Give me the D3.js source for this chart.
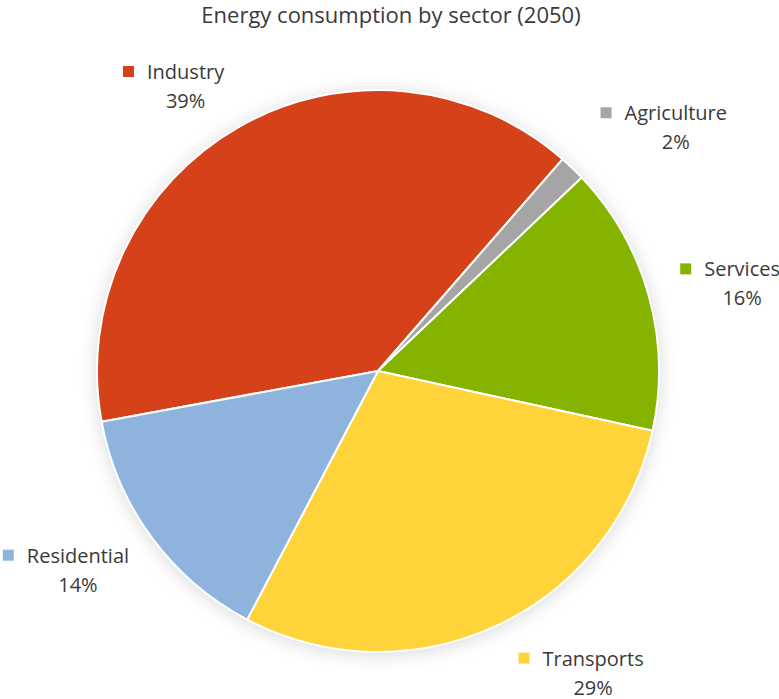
<!DOCTYPE html>
<html>
<head>
<meta charset="utf-8">
<script src="https://cdn.jsdelivr.net/npm/d3@7"></script>
<style>
  html, body { margin: 0; padding: 0; background: #fff; }
  svg text { font-family: "Open Sans", "Segoe UI", sans-serif; fill: #3a3a3a; }
</style>
</head>
<body>
<div id="chart"></div>
<script>
// data
const sectors = ["Industry", "Agriculture", "Services", "Transports", "Residential"];
const shares = [39.3, 1.5, 15.5, 29.3, 14.4];
const shareLabels = ["39%", "2%", "16%", "29%", "14%"];
const colors = ["#d54119", "#a5a5a5", "#84b400", "#ffd43a", "#8eb4de"];

const size = { width: 779, height: 699 };
const center = { x: 378, y: 371 };
const radius = 281;
const firstSliceAngle = 259.6; // degrees, clockwise from 12 o'clock

// label nudges (Excel "best fit" placement)
const labelRadius = radius * 1.29;
const labelNudge = {
  Industry: [-13, 23],
  Agriculture: [47, 11],
  Services: [15, 3],
  Transports: [62, -34],
  Residential: [-8, -23],
};

const data = sectors.map((name, i) => ({
  name,
  value: shares[i],
  label: shareLabels[i],
  color: colors[i],
}));

const svg = d3
  .select("#chart")
  .append("svg")
  .attr("width", size.width)
  .attr("height", size.height);

const defs = svg.append("defs");
const shadow = defs
  .append("filter")
  .attr("id", "pie-shadow")
  .attr("x", "-20%")
  .attr("y", "-20%")
  .attr("width", "140%")
  .attr("height", "140%");
shadow
  .append("feDropShadow")
  .attr("dx", 0)
  .attr("dy", 2)
  .attr("stdDeviation", 9)
  .attr("flood-color", "#000")
  .attr("flood-opacity", 0.16);

svg
  .append("text")
  .attr("x", 391)
  .attr("y", 23)
  .attr("text-anchor", "middle")
  .style("font-size", "22px")
  .text("Energy consumption by sector (2050)");

const start = (firstSliceAngle * Math.PI) / 180;
const pie = d3
  .pie()
  .sort(null)
  .value((d) => d.value)
  .startAngle(start)
  .endAngle(start + 2 * Math.PI);

const arc = d3.arc().innerRadius(0).outerRadius(radius);

const arcs = pie(data);

const g = svg
  .append("g")
  .attr("transform", `translate(${center.x},${center.y})`);

g.append("circle")
  .attr("r", radius)
  .attr("fill", "#fff")
  .attr("filter", "url(#pie-shadow)");

g.selectAll(".slice")
  .data(arcs)
  .join("path")
  .attr("class", "slice")
  .attr("d", arc)
  .attr("fill", (d) => d.data.color)
  .attr("stroke", "#fff")
  .attr("stroke-width", 2)
  .attr("stroke-linejoin", "round");

const labels = svg
  .selectAll(".pie-label")
  .data(arcs)
  .join("g")
  .attr("class", "pie-label")
  .attr("transform", (d) => {
    const mid = (d.startAngle + d.endAngle) / 2;
    const nudge = labelNudge[d.data.name];
    const x = center.x + labelRadius * Math.sin(mid) + nudge[0];
    const y = center.y - labelRadius * Math.cos(mid) + nudge[1];
    return `translate(${x},${y})`;
  });

labels
  .append("text")
  .attr("class", "name")
  .attr("text-anchor", "middle")
  .style("font-size", "20px")
  .text((d) => d.data.name);

labels
  .append("text")
  .attr("y", 29)
  .attr("text-anchor", "middle")
  .style("font-size", "20px")
  .text((d) => d.data.label);

labels.each(function (d) {
  const w = d3.select(this).select(".name").node().getComputedTextLength();
  d3.select(this)
    .insert("rect", "text")
    .attr("x", -w / 2 - 24)
    .attr("y", -13)
    .attr("width", 11)
    .attr("height", 11)
    .attr("fill", d.data.color);
});
</script>
</body>
</html>
